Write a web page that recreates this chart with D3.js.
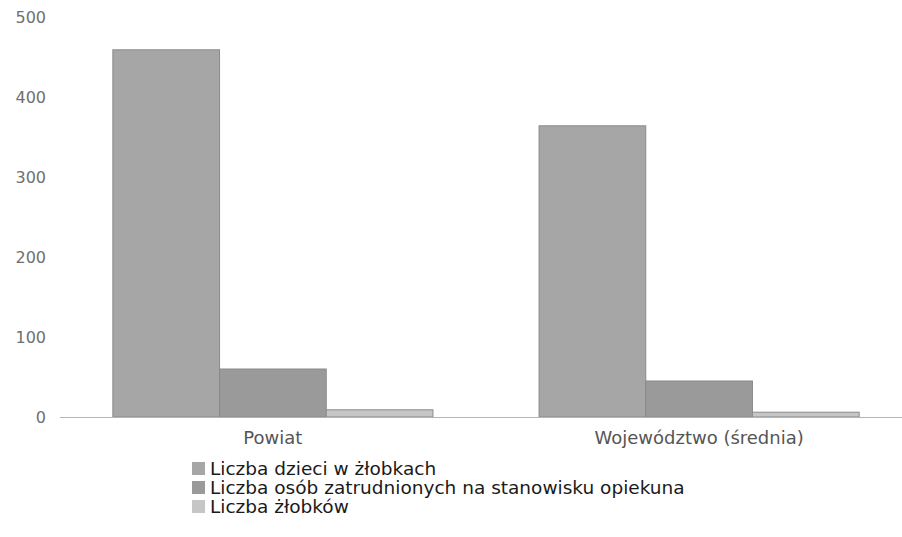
<!DOCTYPE html>
<html>
<head>
<meta charset="utf-8">
<script src="https://cdn.jsdelivr.net/npm/d3@7"></script>
<style>
  body { margin: 0; background: #fff; }
</style>
</head>
<body>
<div id="chart"></div>
<script>
/* chart data */
var categories = ["Powiat", "Województwo (średnia)"];
var seriesNames = ["Liczba dzieci w żłobkach",
                   "Liczba osób zatrudnionych na stanowisku opiekuna",
                   "Liczba żłobków"];
var dzieci = [459, 364];
var opiekunowie = [60, 45];
var zlobki = [9, 6];
var yTicks = [0, 100, 200, 300, 400, 500];

var seriesValues = [dzieci, opiekunowie, zlobki];
var colors = ["#a6a6a6", "#9a9a9a", "#c6c6c6"];

var width = 902, height = 537;

var svg = d3.select("#chart")
            .append("svg")
            .attr("width", width)
            .attr("height", height);

/* scales */
var x0 = d3.scaleBand()
    .domain(categories)
    .range([60, 912])
    .paddingInner(0.249)
    .paddingOuter(0.124);

var x1 = d3.scaleBand()
    .domain(d3.range(seriesNames.length))
    .range([0, x0.bandwidth()]);

var y = d3.scaleLinear()
    .domain([0, 500])
    .range([417, 17]);

/* y tick labels */
svg.append("g")
    .selectAll("text")
    .data(yTicks)
    .enter().append("text")
        .attr("x", 46)
        .attr("y", function(d) { return y(d); })
        .attr("dy", "0.35em")
        .attr("text-anchor", "end")
        .attr("font-family", "'DejaVu Sans', Verdana, sans-serif")
        .attr("font-size", 16)
        .attr("fill", "#707070")
        .text(function(d) { return d; });

/* bars */
var groups = svg.append("g")
    .selectAll("g")
    .data(categories)
    .enter().append("g")
        .attr("transform", function(d) { return "translate(" + x0(d) + ",0)"; });

groups.selectAll("rect")
    .data(function(d, i) { return seriesValues.map(function(s, k) { return { k: k, v: s[i] }; }); })
    .enter().append("rect")
        .attr("x", function(d) { return x1(d.k); })
        .attr("y", function(d) { return y(d.v); })
        .attr("width", x1.bandwidth())
        .attr("height", function(d) { return y(0) - y(d.v); })
        .attr("fill", function(d) { return colors[d.k]; })
        .attr("stroke", "#8a8a8a")
        .attr("stroke-width", 1);

/* baseline */
svg.append("line")
    .attr("x1", 60)
    .attr("x2", 902)
    .attr("y1", y(0) + 0.5)
    .attr("y2", y(0) + 0.5)
    .attr("stroke", "#b5b5b5");

/* category labels */
svg.append("g")
    .selectAll("text")
    .data(categories)
    .enter().append("text")
        .attr("x", function(d) { return x0(d) + x0.bandwidth() / 2; })
        .attr("y", 444)
        .attr("text-anchor", "middle")
        .attr("font-family", "'DejaVu Sans', Verdana, sans-serif")
        .attr("font-size", 18)
        .attr("fill", "#555")
        .text(function(d) { return d; });

/* legend */
var legend = svg.append("g")
    .selectAll("g")
    .data(seriesNames)
    .enter().append("g")
        .attr("transform", function(d, i) { return "translate(192," + (462 + i * 19) + ")"; });

legend.append("rect")
    .attr("width", 13)
    .attr("height", 13)
    .attr("fill", function(d, i) { return colors[i]; });

legend.append("text")
    .attr("x", 18)
    .attr("y", 7)
    .attr("dy", "0.35em")
    .attr("font-family", "'DejaVu Sans', Verdana, sans-serif")
    .attr("font-size", 18.5)
    .attr("fill", "#1a1a1a")
    .text(function(d) { return d; });
</script>
</body>
</html>
